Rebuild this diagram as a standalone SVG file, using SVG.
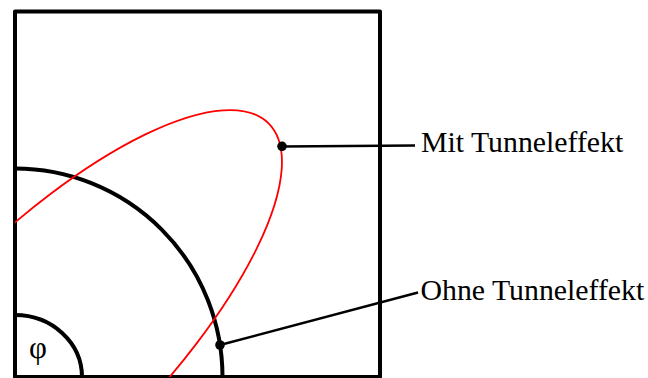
<svg xmlns="http://www.w3.org/2000/svg" width="648" height="378" viewBox="0 0 648 378">
<defs>
<style>
.frame{fill:none;stroke:#000;stroke-width:4;stroke-linejoin:round}
.arc{fill:none;stroke:#000;stroke-width:4}
.curve{fill:none;stroke:#ff0000;stroke-width:1.8}
.lead{fill:none;stroke:#000;stroke-width:2.5}
.dot{fill:#000}
.lbl{font-family:"Liberation Serif","Times New Roman",serif;font-size:29.8px;fill:#000}
</style>
<clipPath id="box"><rect x="15" y="11.5" width="365" height="365.5"/></clipPath>
</defs>
<g id="frame"><rect class="frame" x="15" y="11.5" width="365" height="365.5"/></g>
<g id="circle-large"><path class="arc" d="M15,168.5 A207.5,208.5 0 0 1 222.5,377"/></g>
<g id="angle"><path class="arc" d="M15,315 A67,62 0 0 1 82,377"/><text x="29" y="358" style="font-family:'Liberation Serif','Times New Roman',serif;font-size:31px">φ</text></g>
<g id="ellipse" clip-path="url(#box)"><ellipse class="curve" cx="38.3" cy="353.7" rx="325.7" ry="112.5" transform="rotate(-45 38.3 353.7)"/></g>
<g id="connectors">
<line class="lead" x1="282" y1="146.5" x2="415" y2="145.5"/>
<line class="lead" x1="220" y1="345" x2="418" y2="292.5"/>
</g>
<g id="label-mit"><circle class="dot" cx="282" cy="146.3" r="4.8"/><text class="lbl" x="421" y="152">Mit Tunneleffekt</text></g>
<g id="label-ohne"><circle class="dot" cx="220" cy="345" r="4.8"/><text class="lbl" x="420.5" y="299.5">Ohne Tunneleffekt</text></g>
</svg>
